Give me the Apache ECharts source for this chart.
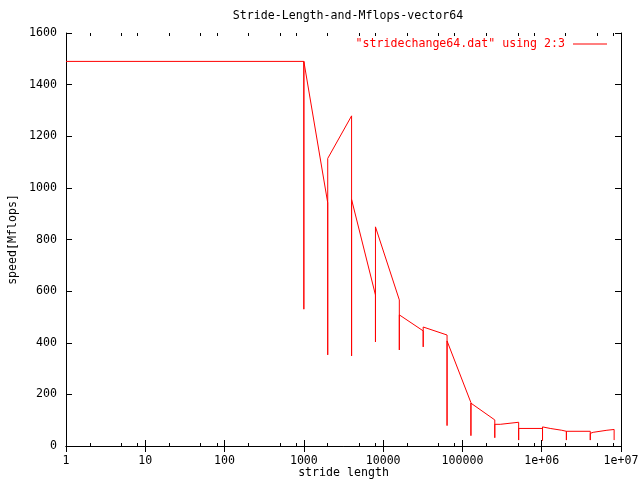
<!DOCTYPE html>
<html><head><meta charset="utf-8">
<script src="https://cdn.jsdelivr.net/npm/echarts@6/dist/echarts.min.js"></script>
<style>html,body{margin:0;padding:0;background:#fff}#c{width:640px;height:480px}</style>
</head><body><div id="c"></div><script>
const chartTitle = 'Stride-Length-and-Mflops-vector64';
const seriesName = '"stridechange64.dat" using 2:3';
const xName = 'stride length';
const yName = 'speed[Mflops]';

const strides = [1, 1000, 1000, 1000, 2000, 2000, 2000, 4000, 4000, 4000,
  8000, 8000, 8000, 16000, 16000, 16000, 32000, 32000, 32000,
  64000, 64000, 64000, 128000, 128000, 128000, 256000, 256000, 256000,
  300000, 310000, 512000, 512000, 512000, 1024000, 1024000, 1024000,
  1280000, 1790000, 2048000, 2048000, 2048000, 4096000, 4096000, 4096000,
  4460000, 6640000, 8192000, 8192000];
const speeds = [1490, 1490, 530, 1490, 942, 353, 1114, 1279, 349, 955,
  585, 403, 849, 566, 372, 508, 446, 384, 461,
  430, 79, 407, 168, 40, 166, 101, 32, 84,
  84, 88, 92, 23, 68, 68, 21, 74,
  68, 61, 57, 23, 57, 57, 23, 49,
  53, 61, 64, 23];

const xMajorTicks = [1, 10, 100, 1000, 10000, 100000, 1000000, 10000000];
const xTickLabels = ['1', '10', '100', '1000', '10000', '100000', '1e+06', '1e+07'];
const xMinorTicks = [2, 5, 8, 20, 50, 80, 200, 500, 800, 2000, 5000, 8000,
  20000, 50000, 80000, 200000, 500000, 800000, 2000000, 5000000, 8000000];
const yTicks = [0, 200, 400, 600, 800, 1000, 1200, 1400, 1600];

const FONT = 'DejaVu Sans Mono';
const FS = 11.6;
const black = '#000000';
const red = '#ff0000';

const chart = echarts.init(document.getElementById('c'), null, {renderer: 'canvas'});
const gridRect = {left: 66, right: 19, top: 33, height: 413, containLabel: false, outerBoundsMode: 'none'};
const labelMap = {};
xMajorTicks.forEach((v, i) => labelMap[v] = xTickLabels[i]);

function xAxisBase(gridIndex, position) {
  return {
    type: 'log', gridIndex, position, min: 1, max: 10000000, logBase: 10,
    splitLine: {show: false}, minorTick: {show: false}, minorSplitLine: {show: false}
  };
}

const option = {
  backgroundColor: '#ffffff',
  animation: false,
  title: {
    text: chartTitle, left: 343, top: 5, textAlign: 'center',
    textStyle: {fontFamily: FONT, fontSize: FS, fontWeight: 'normal', color: black}
  },
  legend: {
    right: 33, top: 38, padding: 0, align: 'right', itemWidth: 34, itemHeight: 1, itemGap: 0,
    icon: 'rect',
    textStyle: {fontFamily: FONT, fontSize: FS, color: red, padding: [0, 3, 0, 0]},
    data: [{name: seriesName, icon: 'rect', itemStyle: {color: red, borderWidth: 0}}]
  },
  grid: [Object.assign({}, gridRect), Object.assign({}, gridRect)],
  xAxis: [
    Object.assign(xAxisBase(0, 'bottom'), {
      name: xName, nameLocation: 'middle', nameGap: 21, nameMoveOverlap: false,
      nameTextStyle: {fontFamily: FONT, fontSize: FS, color: black},
      axisLine: {show: true, lineStyle: {color: black, width: 1}},
      axisTick: {show: true, inside: true, length: 6, customValues: xMajorTicks, lineStyle: {color: black}},
      axisLabel: {show: true, customValues: xMajorTicks, margin: 9,
        fontFamily: FONT, fontSize: FS, color: black,
        formatter: v => labelMap[v] !== undefined ? labelMap[v] : ''}
    }),
    Object.assign(xAxisBase(0, 'top'), {
      axisLine: {show: true, lineStyle: {color: black, width: 1}},
      axisTick: {show: true, inside: true, length: 6, customValues: xMajorTicks, lineStyle: {color: black}},
      axisLabel: {show: false}
    }),
    Object.assign(xAxisBase(1, 'bottom'), {
      axisLine: {show: false},
      axisTick: {show: true, inside: true, length: 3, customValues: xMinorTicks, lineStyle: {color: black}},
      axisLabel: {show: false}
    }),
    Object.assign(xAxisBase(1, 'top'), {
      axisLine: {show: false},
      axisTick: {show: true, inside: true, length: 3, customValues: xMinorTicks, lineStyle: {color: black}},
      axisLabel: {show: false}
    })
  ],
  yAxis: [
    {
      type: 'value', gridIndex: 0, position: 'left', min: 0, max: 1600, interval: 200,
      name: yName, nameLocation: 'middle', nameGap: 47, nameRotate: 90, nameMoveOverlap: false,
      nameTextStyle: {fontFamily: FONT, fontSize: FS, color: black},
      splitLine: {show: false},
      axisLine: {show: true, lineStyle: {color: black, width: 1}},
      axisTick: {show: true, inside: true, length: 6, customValues: yTicks, lineStyle: {color: black}},
      axisLabel: {show: true, customValues: yTicks, margin: 9, fontFamily: FONT, fontSize: FS, color: black,
        formatter: v => String(v)}
    },
    {
      type: 'value', gridIndex: 0, position: 'right', min: 0, max: 1600, interval: 200,
      splitLine: {show: false},
      axisLine: {show: true, lineStyle: {color: black, width: 1}},
      axisTick: {show: true, inside: true, length: 6, customValues: yTicks, lineStyle: {color: black}},
      axisLabel: {show: false}
    },
    {
      type: 'value', gridIndex: 1, min: 0, max: 1600, show: false
    }
  ],
  series: [{
    name: seriesName, type: 'line', xAxisIndex: 0, yAxisIndex: 0,
    data: strides.map((s, i) => [s, speeds[i]]),
    symbol: 'none', showSymbol: false,
    lineStyle: {color: red, width: 1}, itemStyle: {color: red},
    clip: true
  }]
};
chart.setOption(option);
</script></body></html>
